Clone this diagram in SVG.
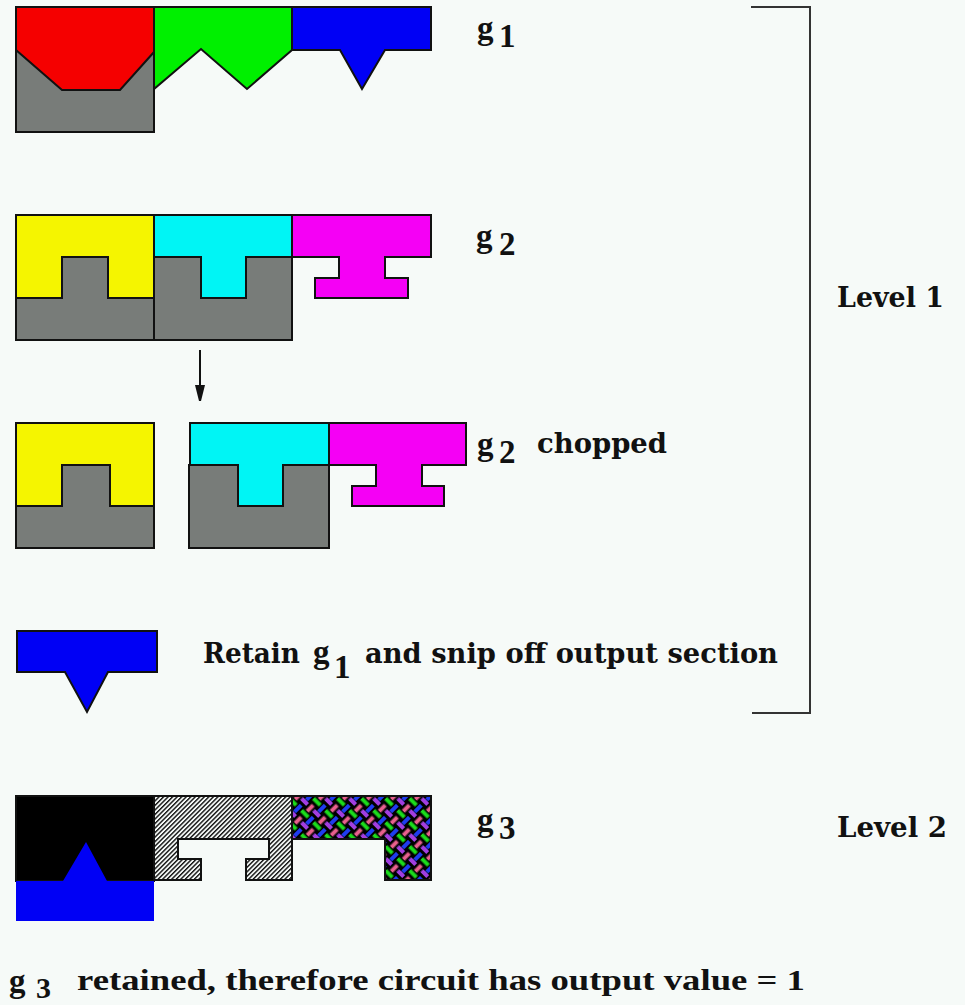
<svg xmlns="http://www.w3.org/2000/svg" width="965" height="1005" viewBox="0 0 965 1005">
  <defs>
    <style>
      .shape { stroke: #111; stroke-width: 2; stroke-linejoin: miter; }
      .gray { fill: #787c79; }
      .lbl { font-family: "DejaVu Serif", "Liberation Serif", serif; font-weight: bold; fill: #111; }
      .sym { font-family: "Liberation Serif", "DejaVu Serif", serif; font-weight: bold; fill: #111; font-size: 33px; }
      .mid { font-size: 27px; }
      .line { stroke: #333; stroke-width: 2; fill: none; }
    </style>
    <!-- diagonal single hatching -->
    <pattern id="hatch" patternUnits="userSpaceOnUse" width="3.2" height="3.2" patternTransform="rotate(45)">
      <rect width="3.2" height="3.2" fill="#f6faf8"/>
      <rect x="0" y="0" width="1.4" height="3.2" fill="#111"/>
    </pattern>
    <!-- coloured basket weave on black -->
    <pattern id="weave" patternUnits="userSpaceOnUse" width="17" height="17" patternTransform="translate(292 796) rotate(45)">
      <rect width="17" height="17" fill="#000"/>
      <rect x="0" y="1.5" width="9.5" height="4" fill="#1bdc1b"/>
      <rect x="8.5" y="10" width="9.5" height="4" fill="#a23ee0"/>
      <rect x="11" y="0" width="4" height="9.5" fill="#1f3cf0"/>
      <rect x="2.5" y="8.5" width="4" height="9.5" fill="#e8608e"/>
    </pattern>
  </defs>

  <rect width="965" height="1005" fill="#f6faf8"/>

  <!-- gate g1 -->
  <g id="g1">
    <rect class="shape gray" x="16" y="50" width="138" height="82"/>
    <polygon class="shape" fill="#f50000" points="16,7 154,7 154,52 120,90 62,90 16,50"/>
    <polygon class="shape" fill="#00f000" points="154,7 292,7 292,50 247,89 201,49 154,89"/>
    <polygon class="shape" fill="#0000f5" points="292,7 431,7 431,50 385,50 362,89 340,50 292,50"/>
    <text class="sym" x="477" y="39">g<tspan x="499" y="47">1</tspan></text>
  </g>

  <!-- gate g2 -->
  <g id="g2">
    <polygon class="shape" fill="#f5f500" points="16,215 154,215 154,298 108,298 108,257 62,257 62,298 16,298"/>
    <polygon class="shape gray" points="16,298 62,298 62,257 108,257 108,298 154,298 154,340 16,340"/>
    <polygon class="shape" fill="#00f5f5" points="154,215 292,215 292,257 246,257 246,298 201,298 201,257 154,257"/>
    <polygon class="shape gray" points="154,257 201,257 201,298 246,298 246,257 292,257 292,340 154,340"/>
    <polygon class="shape" fill="#f500f5" points="292,215 431,215 431,257 385,257 385,278 408,278 408,298 315,298 315,278 339,278 339,257 292,257"/>
    <text class="sym" x="476" y="247">g<tspan x="499" y="255">2</tspan></text>
  </g>

  <!-- g2 after chopping -->
  <g id="g2-chopped">
    <polygon class="shape" fill="#f5f500" points="16,423 154,423 154,506 110,506 110,465 62,465 62,506 16,506"/>
    <polygon class="shape gray" points="16,506 62,506 62,465 110,465 110,506 154,506 154,548 16,548"/>
    <polygon class="shape" fill="#00f5f5" points="190,423 329,423 329,465 283,465 283,506 238,506 238,465 190,465"/>
    <polygon class="shape gray" points="189,465 238,465 238,506 283,506 283,465 329,465 329,548 189,548"/>
    <polygon class="shape" fill="#f500f5" points="329,423 466,423 466,465 422,465 422,486 444,486 444,506 352,506 352,486 376,486 376,465 329,465"/>
    <text class="sym" x="477" y="455">g<tspan x="499" y="463">2</tspan></text>
    <text class="lbl mid" x="537" y="453" textLength="130" lengthAdjust="spacingAndGlyphs">chopped</text>
  </g>

  <!-- retained output section of g1 -->
  <g id="g1-output">
    <polygon class="shape" fill="#0000f5" points="17,631 157,631 157,672 108,672 87,712 65,672 17,672"/>
    <text class="lbl mid" x="203" y="663" textLength="97" lengthAdjust="spacingAndGlyphs">Retain</text>
    <text class="sym" x="313" y="663">g<tspan x="334" y="678">1</tspan></text>
    <text class="lbl mid" x="365" y="663" textLength="413" lengthAdjust="spacingAndGlyphs">and snip off output section</text>
  </g>

  <!-- gate g3 -->
  <g id="g3">
    <rect class="shape" fill="#000" x="16" y="796" width="138" height="85"/>
    <polygon fill="#0000f5" points="16,881 63,881 86,842 107,881 154,881 154,921 16,921"/>
    <polygon class="shape" fill="url(#hatch)" points="154,796 292,796 292,880 246,880 246,859 269,859 269,839 178,839 178,859 201,859 201,880 154,880"/>
    <polygon class="shape" fill="url(#weave)" points="292,796 431,796 431,880 385,880 385,839 292,839"/>
    <text class="sym" x="477" y="831">g<tspan x="499" y="839">3</tspan></text>
  </g>

  <!-- level labels -->
  <g id="levels">
    <text class="lbl mid" x="837" y="307" textLength="107" lengthAdjust="spacingAndGlyphs">Level 1</text>
    <text class="lbl mid" x="837" y="837" textLength="110" lengthAdjust="spacingAndGlyphs">Level 2</text>
  </g>

  <!-- conclusion -->
  <g id="conclusion">
    <text class="sym" x="9" y="992">g<tspan x="36" y="998" font-size="30">3</tspan></text>
    <text x="77" y="990" font-family="Liberation Serif, serif" font-weight="bold" font-size="30" fill="#111" textLength="728" lengthAdjust="spacingAndGlyphs">retained, therefore circuit has output value = 1</text>
  </g>

  <!-- connectors: chop arrow and level bracket -->
  <g id="connectors">
    <line x1="200" y1="350" x2="200" y2="388" stroke="#111" stroke-width="2"/>
    <polygon points="195,385 205,385 201,401 199,401" fill="#111"/>
    <polyline class="line" points="751,7 810,7 810,713 752,713"/>
  </g>
</svg>
